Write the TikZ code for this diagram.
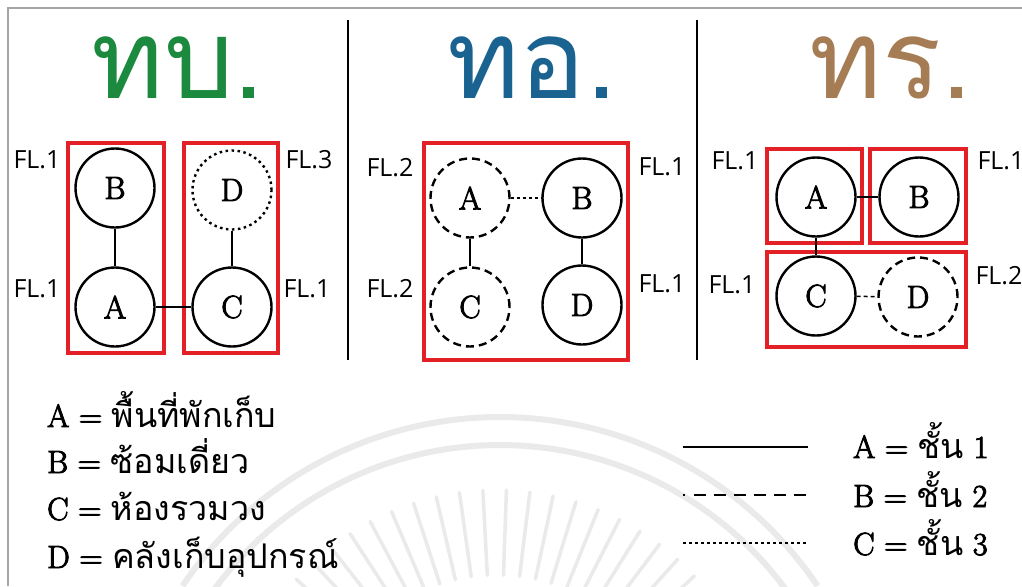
\documentclass[tikz,border=0pt]{standalone}
\usepackage{fontspec}
\newfontfamily\thaifont[Script=Thai]{Loma}
\newfontfamily\flfont{Open Sans}
\newfontfamily\lmb[FakeBold=3]{Latin Modern Roman}
\definecolor{tbgreen}{RGB}{27,137,62}
\definecolor{toblue}{RGB}{26,99,145}
\definecolor{trbrown}{RGB}{166,124,84}
\definecolor{boxred}{RGB}{226,32,38}
\definecolor{wmgray}{RGB}{234,234,234}
\definecolor{framegray}{RGB}{165,165,165}
\begin{document}
\begin{tikzpicture}[x=1pt,y=-1pt,
  room/.style={circle, draw, line width=2.4pt, minimum size=79pt, inner sep=0pt, font=\lmb\fontsize{32}{32}\selectfont},
  dashedroom/.style={room, dash pattern=on 8pt off 5pt},
  dottedroom/.style={room, dash pattern=on 2.5pt off 3.5pt},
  redbox/.style={draw=boxred, line width=4pt},
  conn/.style={line width=2.8pt},
  fl/.style={anchor=base, font=\flfont\fontsize{25}{25}\selectfont},
  title/.style={anchor=base, font=\thaifont\fontsize{110}{110}\selectfont},
  legend/.style={anchor=base west, inner sep=0pt, font=\lmb\fontsize{32}{32}\selectfont},
  wm/.style={draw=wmgray, line width=6pt},
  sep/.style={line width=2.5pt}]
\useasboundingbox (0,0) rectangle (1022,586);
\fill[white] (0,0) rectangle (1022,586);
% watermark
\draw[wm] plot[domain=34:146, samples=80] ({500+383*cos(\x)}, {800-383*sin(\x)});
\draw[wm] plot[domain=27:153, samples=80] ({500+355*cos(\x)}, {800-355*sin(\x)});
\foreach \a in {38,43,...,142}
  \draw[draw=wmgray, line width=3.5pt, line cap=round] ({497+185*cos(\a)}, {760-185*sin(\a)}) -- ({497+270*cos(\a)}, {760-270*sin(\a)});
% frame
\draw[framegray, line width=1.2pt] (8,586) -- (8,8) -- (1022,8);
% separators
\coordinate (s1t) at (348,20); \coordinate (s1b) at (348,360);
\coordinate (s2t) at (697,20); \coordinate (s2b) at (697,360);
\draw[sep] (s1t) -- (s1b);
\draw[sep] (s2t) -- (s2b);
% titles
\node[title, text=tbgreen] (t1) at (178,98) {ทบ.};
\node[title, text=toblue] (t2) at (532,98) {ทอ.};
\node[title, text=trbrown] (t3) at (891,98) {ทร.};
% panel 1
\draw[redbox] (68,143) rectangle (164,353);
\draw[redbox] (184,143) rectangle (278,353);
\node[room] (p1B) at (115,188) {B};
\node[room] (p1A) at (115,307) {A};
\node[dottedroom] (p1D) at (232,190) {D};
\node[room] (p1C) at (232,307) {C};
\draw[conn] (p1B) -- (p1A);
\draw[conn] (p1D) -- (p1C);
\draw[conn] (p1A) -- (p1C);
\node[fl] (f1a) at (37,168) {FL.1};
\node[fl] (f1b) at (37,297) {FL.1};
\node[fl] (f1c) at (309,168) {FL.3};
\node[fl] (f1d) at (307,297) {FL.1};
% panel 2
\draw[redbox] (424,143) rectangle (628,360);
\node[dashedroom] (p2A) at (470,198) {A};
\node[room] (p2B) at (582,198) {B};
\node[dashedroom] (p2C) at (470,307) {C};
\node[room] (p2D) at (582,305) {D};
\draw[conn, dash pattern=on 3pt off 3pt] (p2A) -- (p2B);
\draw[conn] (p2A) -- (p2C);
\draw[conn] (p2B) -- (p2D);
\node[fl] (f2a) at (390,176) {FL.2};
\node[fl] (f2b) at (390,297) {FL.2};
\node[fl] (f2c) at (662,175) {FL.1};
\node[fl] (f2d) at (662,292) {FL.1};
% panel 3
\draw[redbox] (767,149) rectangle (862,243);
\draw[redbox] (870,149) rectangle (966,243);
\draw[redbox] (767,252) rectangle (966,347);
\node[room] (p3A) at (816,197) {A};
\node[room] (p3B) at (919,197) {B};
\node[room] (p3C) at (816,296) {C};
\node[dashedroom] (p3D) at (918,297) {D};
\draw[conn] (p3A) -- (p3B);
\draw[conn] (p3A) -- (p3C);
\draw[line width=1.5pt, dash pattern=on 4pt off 3pt] (p3C) -- (p3D);
\node[fl] (f3a) at (735,169) {FL.1};
\node[fl, anchor=base west] (f3b) at (974,169) {FL.1};
\node[fl] (f3c) at (732,293) {FL.1};
\node[fl, anchor=base west] (f3d) at (972,284) {FL.2};
% legend left
\node[legend] (la) at (47,427) {A = {\thaifont\fontsize{34}{34}\selectfont พื้นที่พักเก็บ}};
\node[legend] (lb) at (47,473) {B = {\thaifont\fontsize{34}{34}\selectfont ซ้อมเดี่ยว}};
\node[legend] (lc) at (47,520) {C = {\thaifont\fontsize{34}{34}\selectfont ห้องรวมวง}};
\node[legend] (ld) at (47,568) {D = {\thaifont\fontsize{34}{34}\selectfont คลังเก็บอุปกรณ์}};
% legend right
\coordinate (k1a) at (683,447); \coordinate (k1b) at (808,447);
\coordinate (k2a) at (683,495); \coordinate (k2b) at (808,495);
\coordinate (k3a) at (683,543); \coordinate (k3b) at (808,543);
\draw[line width=2pt] (k1a) -- (k1b);
\draw[line width=2pt, dash pattern=on 2pt off 9pt on 12pt off 8pt on 12pt off 8pt on 12pt off 8pt on 12pt off 8pt on 12pt off 8pt on 12pt off 8pt on 2pt off 10pt] (k2a) -- (k2b);
\draw[line width=2pt, dash pattern=on 3pt off 3pt] (k3a) -- (k3b);
\node[legend] (r1) at (853,458) {A = {\thaifont\fontsize{34}{34}\selectfont ชั้น} 1};
\node[legend] (r2) at (853,507) {B = {\thaifont\fontsize{34}{34}\selectfont ชั้น} 2};
\node[legend] (r3) at (853,555) {C = {\thaifont\fontsize{34}{34}\selectfont ชั้น} 3};
\end{tikzpicture}
\end{document}
